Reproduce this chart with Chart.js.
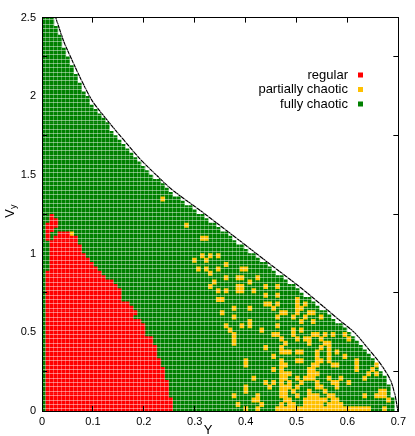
<!DOCTYPE html>
<html>
<head>
<meta charset="utf-8">
<script src="https://cdn.jsdelivr.net/npm/chart.js@4.4.1/dist/chart.umd.min.js"></script>
<style>
  html, body { margin: 0; padding: 0; background: #fff; }
  #wrap { position: relative; width: 415px; height: 436px; }
</style>
</head>
<body>
<div id="wrap"><canvas id="chart"></canvas></div>
<script>
// grid of initial conditions: 90 columns in Y (0..0.7), 90 rows in V_y (0..2.5)
const nCols = 90;
const nRows = 90;
const yMax = 0.7;
const vyMax = 2.5;

const xTickValues = [0, 0.1, 0.2, 0.3, 0.4, 0.5, 0.6, 0.7];
const xTickLabels = ['0', '0.1', '0.2', '0.3', '0.4', '0.5', '0.6', '0.7'];
const yTickValues = [0, 0.5, 1, 1.5, 2, 2.5];
const yTickLabels = ['0', '0.5', '1', '1.5', '2', '2.5'];

const legendLabels = ['regular', 'partially chaotic', 'fully chaotic'];

// boundary of the allowed region
const boundaryY  = [0.027, 0.042, 0.058, 0.076, 0.099, 0.126, 0.158, 0.191, 0.226, 0.255, 0.320, 0.388,
                    0.450, 0.515, 0.581, 0.614, 0.640, 0.665, 0.685, 0.694, 0.699];
const boundaryVy = [2.5, 2.355, 2.237, 2.112, 1.969, 1.857, 1.732, 1.607, 1.495, 1.408, 1.252, 1.084,
                    0.928, 0.766, 0.586, 0.498, 0.399, 0.299, 0.193, 0.093, 0.0];

// number of computed cells in each row (row 0 = lowest V_y)
const rowLength = [
  89, 89, 89, 88, 88, 88, 87, 87, 86, 85,
  85, 84, 83, 82, 81, 80, 79, 78, 77, 76,
  74, 73, 72, 70, 69, 68, 66, 65, 64, 62,
  61, 59, 58, 57, 55, 54, 52, 51, 49, 48,
  47, 45, 44, 42, 41, 39, 38, 36, 35, 33,
  32, 31, 30, 28, 27, 26, 25, 24, 23, 22,
  21, 20, 19, 18, 17, 17, 16, 15, 14, 13,
  12, 12, 11, 10, 10, 9, 9, 8, 8, 7,
  7, 6, 6, 5, 5, 5, 4, 4, 3, 3
];

// regular orbits: [row, first column, last column]
const regularRuns = [
  [0, 1, 32], [1, 1, 32], [2, 1, 32],
  [3, 1, 31], [4, 1, 31], [5, 1, 31], [6, 1, 31],
  [7, 1, 30], [8, 1, 30], [9, 1, 30],
  [10, 1, 29], [11, 1, 29],
  [12, 1, 28], [13, 1, 28], [14, 1, 28],
  [15, 1, 27], [16, 1, 27],
  [17, 1, 25], [18, 1, 25], [19, 1, 25],
  [20, 1, 24], [21, 1, 22], [22, 1, 23], [23, 1, 22], [24, 1, 21],
  [25, 1, 19], [26, 1, 19], [27, 1, 19], [28, 1, 18], [29, 1, 17],
  [30, 1, 15], [31, 1, 14], [32, 2, 13], [33, 2, 12], [34, 2, 11],
  [35, 2, 10], [36, 2, 9], [37, 2, 9], [38, 2, 8],
  [39, 1, 1], [39, 3, 8], [40, 1, 1], [40, 4, 6],
  [41, 1, 2], [42, 1, 3], [43, 2, 3], [44, 2, 2]
];

// partially chaotic orbits: columns listed per row
const partialCols = [
  [51, 54, 59, 60, 61, 62, 63, 64, 65, 66, 67, 68, 69, 70, 71, 72, 73, 74, 75, 76, 77, 78, 79, 80, 81, 82, 86],
  [49, 55, 60, 62, 63, 66, 67, 68, 69, 70, 72, 73, 74, 75],
  [53, 54, 61, 62, 66, 67, 68, 69, 70, 71, 73, 74, 87],
  [48, 54, 60, 61, 64, 67, 68, 69, 72, 73, 81, 84, 85, 86],
  [51, 60, 61, 63, 67, 71, 85, 86],
  [51, 57, 60, 61, 62, 64, 69, 70, 74],
  [56, 58, 60, 62, 65, 69, 73, 74, 77],
  [53, 60, 61, 64, 66, 67, 68, 72, 75, 81],
  [60, 61, 62, 67, 68, 69, 82, 84],
  [58, 60, 67, 68, 79, 83],
  [51, 60, 61, 68, 69, 73, 74, 79, 84],
  [51, 60, 64, 65, 69, 70, 72, 79],
  [58, 69, 72, 76],
  [60, 61, 62, 64, 65, 69, 72, 74],
  [56, 60, 70, 72],
  [48, 61, 67, 71, 72],
  [48, 60, 64, 66, 67, 70, 77],
  [48, 58, 59, 63, 68, 69, 71, 73, 76],
  [47, 55, 63, 65],
  [46, 50, 52, 59],
  [52, 65, 68],
  [48, 59, 63, 66, 70],
  [45, 60, 61, 64, 67, 68],
  [48, 52, 58, 64, 65],
  [56, 57, 59, 64, 66],
  [44, 45, 64],
  [56, 59],
  [44, 46, 49, 50, 53],
  [42, 49, 50, 56, 59],
  [43, 52],
  [46, 49, 50, 54],
  [42],
  [39, 41, 44, 50, 51],
  [46],
  [38, 41],
  [40, 42, 44],
  [], [], [],
  [40, 41],
  [7],
  [],
  [36],
  [], [], [], [], [],
  [30]
];

const colors = { regular: '#ff0000', partial: '#ffc000', fully: '#008000' };
const legendColors = [colors.regular, colors.partial, colors.fully];
const fontFamily = '"Liberation Sans", Arial, sans-serif';

// classify every cell
const cells = [];
for (let r = 0; r < nRows; r++) {
  const row = new Array(nCols).fill(null);
  for (let c = 0; c < rowLength[r]; c++) row[c] = 'fully';
  cells.push(row);
}
regularRuns.forEach(([r, c0, c1]) => {
  for (let c = c0; c <= c1; c++) cells[r][c] = 'regular';
});
partialCols.forEach((cols, r) => cols.forEach(c => { cells[r][c] = 'partial'; }));

// merge neighbouring cells of one class into floating bars
function barsFor(kind) {
  const dx = yMax / nCols, dv = vyMax / nRows;
  const bars = [];
  cells.forEach((row, r) => {
    let c = 0;
    while (c < nCols) {
      if (row[c] === kind) {
        let e = c;
        while (e + 1 < nCols && row[e + 1] === kind) e++;
        bars.push({ x: [c * dx, (e + 1) * dx], y: (r + 0.5) * dv });
        c = e + 1;
      } else {
        c++;
      }
    }
  });
  return bars;
}

const colEdges = [];
for (let i = 0; i <= nCols; i++) colEdges.push({ value: i * yMax / nCols });
const rowEdges = [];
for (let j = 0; j <= nRows; j++) rowEdges.push({ value: j * vyMax / nRows });

function frameAxis(axis, position, values, labels, size) {
  return {
    type: 'linear', axis: axis, position: position, offset: false,
    min: 0, max: axis === 'x' ? yMax : vyMax,
    afterBuildTicks: (s) => { s.ticks = values.map(v => ({ value: v })); },
    afterFit: (s) => { if (axis === 'x') s.height = size; else s.width = size; },
    ticks: {
      display: !!labels, autoSkip: false, maxRotation: 0,
      color: '#000', font: { family: fontFamily, size: 11 },
      padding: axis === 'x' ? 9 : 11,
      callback: (v, i) => labels ? labels[i] : ''
    },
    grid: { display: true, drawOnChartArea: false, drawTicks: true, tickLength: -5, color: '#000', z: 2 },
    border: { display: true, color: '#000', width: 1, z: 2 }
  };
}

function cellLines(axis, edges, color) {
  return {
    type: 'linear', axis: axis, position: axis === 'x' ? 'bottom' : 'left', offset: false,
    min: 0, max: axis === 'x' ? yMax : vyMax,
    afterBuildTicks: (s) => { s.ticks = edges.slice(); },
    afterFit: (s) => { if (axis === 'x') s.height = 0; else s.width = 0; },
    ticks: { display: false },
    grid: { drawTicks: false, color: color, lineWidth: 1, z: 1 },
    border: { display: false }
  };
}

const overlayText = {
  id: 'overlayText',
  afterDraw(chart) {
    const ctx = chart.ctx;
    ctx.save();
    ctx.font = '13px ' + fontFamily;
    ctx.textAlign = 'right';
    ctx.textBaseline = 'middle';
    legendLabels.forEach((label, i) => {
      const y = 75 + i * 14.5;
      ctx.fillStyle = '#000';
      ctx.fillText(label, 348, y);
      ctx.fillStyle = legendColors[i];
      ctx.fillRect(358, y - 2.5, 5, 5);
    });
    ctx.fillStyle = '#000';
    ctx.textAlign = 'center';
    ctx.font = '13px ' + fontFamily;
    ctx.fillText('Y', 208, 430);
    ctx.translate(10, 212);
    ctx.rotate(-Math.PI / 2);
    ctx.textAlign = 'right';
    ctx.fillText('V', 3, 0);
    ctx.textAlign = 'left';
    ctx.font = '9px ' + fontFamily;
    ctx.fillText('y', 3, 4);
    ctx.restore();
  }
};

const ctx = document.getElementById('chart').getContext('2d');
new Chart(ctx, {
  type: 'bar',
  data: {
    datasets: [
      {
        type: 'line', label: 'boundary', order: 0, indexAxis: 'x',
        data: boundaryY.map((v, i) => ({ x: v, y: boundaryVy[i] })),
        borderColor: '#000', borderWidth: 1.2, pointRadius: 0, tension: 0.3, showLine: true,
        xAxisID: 'x', yAxisID: 'y'
      },
      { label: legendLabels[0], data: barsFor('regular'), backgroundColor: colors.regular, order: 1, xAxisID: 'x', yAxisID: 'y' },
      { label: legendLabels[1], data: barsFor('partial'), backgroundColor: colors.partial, order: 1, xAxisID: 'x', yAxisID: 'y' },
      { label: legendLabels[2], data: barsFor('fully'), backgroundColor: colors.fully, order: 1, xAxisID: 'x', yAxisID: 'y' }
    ]
  },
  options: {
    indexAxis: 'y',
    responsive: true,
    maintainAspectRatio: false,
    animation: false,
    grouped: false,
    barPercentage: 1,
    categoryPercentage: 1,
    layout: { padding: { top: 10, right: 14, bottom: 0, left: 0 } },
    plugins: { legend: { display: false }, tooltip: { enabled: false } },
    scales: {
      x: frameAxis('x', 'bottom', xTickValues, xTickLabels, 25),
      y: frameAxis('y', 'left', yTickValues, yTickLabels, 42),
      x2: frameAxis('x', 'top', xTickValues, null, 0),
      y2: frameAxis('y', 'right', yTickValues, null, 0),
      gx: cellLines('x', colEdges, 'rgba(255,255,255,0.3)'),
      gy: cellLines('y', rowEdges, 'rgba(255,255,255,0.45)')
    }
  },
  plugins: [overlayText]
});
</script>
</body>
</html>
